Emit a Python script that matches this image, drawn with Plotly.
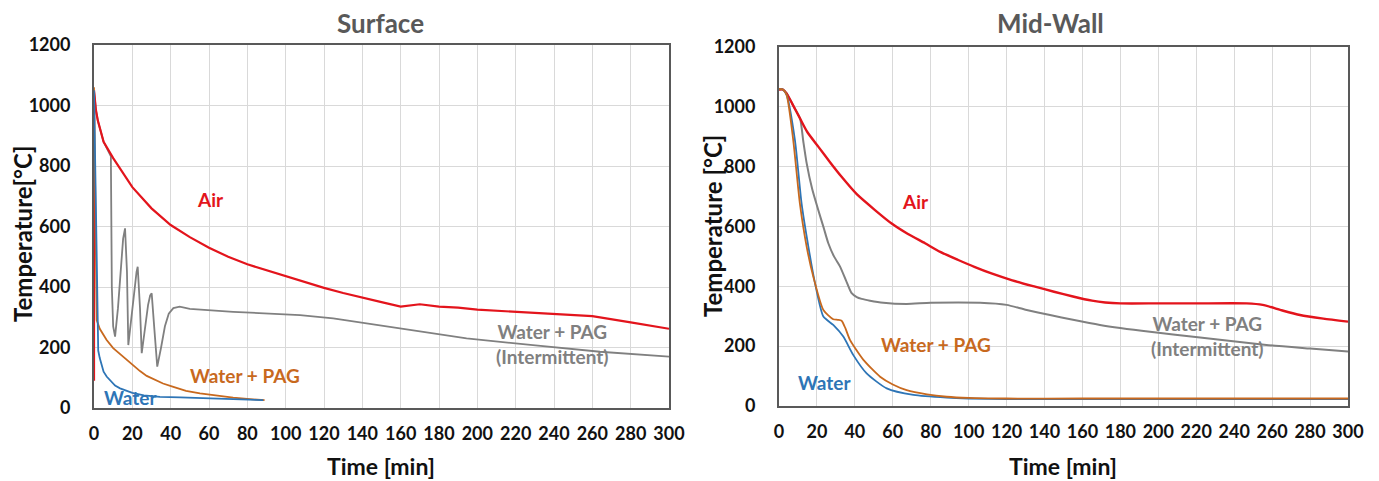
import plotly.graph_objects as go

# ---------------- Surface data ----------------
s_air_t = [0, 0, 1, 2, 5, 10, 20, 30, 40, 50, 60, 70, 80, 90, 100, 110, 120, 130, 140, 150, 160, 165, 170, 180, 190, 200, 220, 240, 260, 280, 300]
s_air_T = [90, 1050, 985, 950, 880, 826, 730, 660, 605, 565, 530, 500, 475, 455, 435, 415, 397, 380, 364, 350, 335, 340, 343, 335, 332, 325, 318, 312, 304, 283, 262]

s_int_t = [0, 1, 2, 5, 8.8, 9.0, 9.3, 10, 11, 12.5, 14, 15.2, 16.2, 17.2, 17.9, 19.5, 21, 22.2, 22.8, 24, 24.9, 26.5, 28.2, 29.3, 30.1, 31.5, 33, 35, 37, 39, 41.4, 44.7, 50, 72.6, 107.5, 124.8, 140, 159.7, 194.4, 229, 264, 300]
s_int_T = [1050, 985, 950, 880, 832, 700, 400, 270, 236, 330, 470, 560, 594, 450, 208, 300, 400, 450, 467, 330, 181, 260, 340, 372, 379, 260, 137, 200, 270, 312, 330, 335, 328, 318, 307, 296, 282, 263, 230, 208, 186, 170]

s_pag_t = [0, 0.5, 1.0, 1.4, 3, 5, 6.6, 10, 14, 17, 21, 24, 27.5, 32, 36, 41.4, 48, 55.3, 63, 72.6, 80, 89]
s_pag_T = [1060, 700, 400, 291, 262, 240, 225, 198, 176, 160, 140, 122, 106, 92, 81, 70, 57, 48, 41, 34, 30, 26]

s_wat_t = [0, 0.8, 1.6, 2.2, 3, 4, 5, 6.6, 9, 11, 13.6, 17, 20, 26, 34.4, 45, 55.3, 70, 88.3]
s_wat_T = [1050, 700, 350, 190, 165, 140, 120, 104, 86, 74, 65, 56, 50, 42, 37, 35, 33, 30, 26]

# ---------------- Mid-wall data ----------------
m_air_t = [0, 2, 4, 7, 11.1, 15, 20.7, 27, 33, 41, 50.6, 59.4, 68, 77, 85, 94.5, 103, 112, 123, 135, 145, 155, 165, 172, 180, 200, 220, 246.6, 255, 265, 274.7, 287, 300]
m_air_T = [1058, 1058, 1045, 1010, 961, 915, 867, 814, 766, 708, 655, 610, 575, 544, 515, 488, 465, 443, 420, 399, 382, 366, 352, 346, 343, 343, 343, 343, 338, 320, 304, 292, 282]

m_int_t = [0, 2, 4, 7, 11.1, 12.8, 14.6, 17.5, 20.7, 23.5, 26, 29, 32.2, 35.3, 38.3, 41, 43.6, 48, 55, 67.3, 80, 106, 120, 130, 142.9, 155, 169.2, 195.6, 222, 257, 280, 300]
m_int_T = [1058, 1058, 1045, 1010, 961, 885, 811, 725, 655, 597, 544, 500, 466, 420, 377, 364, 358, 352, 345, 341, 345, 345, 338, 322, 304, 288, 271, 248, 229, 204, 192, 182]

m_pag_t = [0, 2, 4, 7.5, 11, 14.6, 18.1, 23.4, 28.6, 31, 33, 35, 37.4, 44.5, 53.3, 60, 67.3, 78, 88.4, 100, 120, 160, 200, 250, 300]
m_pag_T = [1060, 1058, 1040, 889, 677, 532, 432, 321, 290, 288, 285, 260, 221, 154, 98, 72, 53, 39, 31, 27, 25, 25, 25, 25, 25]

m_wat_t = [0, 2, 4, 8.4, 11.9, 15.5, 19, 23.4, 28.6, 33.9, 39.2, 46.2, 56.8, 70.9, 88.4, 100, 120, 160, 200, 250, 300]
m_wat_T = [1060, 1058, 1040, 889, 677, 532, 410, 299, 271, 232, 170, 109, 59, 37, 28, 25, 23, 23, 23, 23, 23]

x_ticks = list(range(0, 301, 20))
y_ticks = list(range(0, 1201, 200))

RED = "#E3141C"
ORANGE = "#C8691E"
BLUE = "#2E75B6"
GRAY = "#808080"
FONT = "Lato"

fig = go.Figure()

def add(t, T, color, xa, ya, width=2, shape="linear"):
    fig.add_trace(go.Scatter(x=t, y=T, mode="lines", line=dict(color=color, width=width, shape=shape, smoothing=0.6),
                             xaxis=xa, yaxis=ya, showlegend=False, hoverinfo="skip"))

add(s_int_t, s_int_T, GRAY, "x", "y", 1.8)
add(s_air_t, s_air_T, RED, "x", "y", 2.2)
add(s_pag_t, s_pag_T, ORANGE, "x", "y", 1.8)
add(s_wat_t, s_wat_T, BLUE, "x", "y", 1.8)

add(m_int_t, m_int_T, GRAY, "x2", "y2", 2, "spline")
add(m_air_t, m_air_T, RED, "x2", "y2", 2.4, "spline")
add(m_wat_t, m_wat_T, BLUE, "x2", "y2", 1.8, "spline")
add(m_pag_t, m_pag_T, ORANGE, "x2", "y2", 1.8, "spline")

W, H = 1379, 481
OX, OY = 8, 8  # page body offset


def px(x):
    return (x - OX) / W


def py(y):
    return 1 - (y - OY) / H


axis_common = dict(showgrid=True, gridcolor="#D9D9D9", gridwidth=1, zeroline=False,
                   showline=True, linecolor="#595959", linewidth=2, mirror=True, automargin=False,
                   ticks="", tickfont=dict(family=FONT, size=18, color="#111111", weight="bold"))

fig.update_layout(
    template="none",
    width=W, height=H, margin=dict(l=0, r=0, t=0, b=0, autoexpand=False),
    paper_bgcolor="white", plot_bgcolor="white",
    xaxis=dict(domain=[px(94), px(669)], range=[0, 300], tickvals=x_ticks, anchor="y",
               ticklabelstandoff=8, **axis_common),
    yaxis=dict(domain=[py(408), py(45)], range=[0, 1200], tickvals=y_ticks, anchor="x",
               ticklabelstandoff=18, **axis_common),
    xaxis2=dict(domain=[px(779), px(1348)], range=[0, 300], tickvals=x_ticks, anchor="y2",
                ticklabelstandoff=8, **axis_common),
    yaxis2=dict(domain=[py(406), py(47)], range=[0, 1200], tickvals=y_ticks, anchor="x2",
                ticklabelstandoff=18, **axis_common),
)


def ann(text, x, y, color, size, angle=0):
    fig.add_annotation(text=text, x=px(x), y=py(y), xref="paper", yref="paper", showarrow=False,
                       textangle=angle, xanchor="center", yanchor="middle",
                       font=dict(family=FONT, size=size, color=color, weight="bold"))


# titles
ann("Surface", 380, 23, "#595959", 26)
ann("Mid-Wall", 1050, 23, "#595959", 26)
# axis titles
ann("Time [min]", 381, 466, "#111111", 23)
ann("Time [min]", 1063, 466, "#111111", 23)
ann("Temperature[°C]", 22, 234, "#111111", 24, angle=-90)
ann("Temperature [°C]", 712, 226, "#111111", 24, angle=-90)

# series labels (data coordinates)
lab = 19


def dlabel(text, x, y, xr, yr, color):
    fig.add_annotation(text=text, x=x, y=y, xref=xr, yref=yr, showarrow=False,
                       font=dict(family=FONT, size=lab, color=color, weight="bold"))


dlabel("Air", 61, 690, "x", "y", RED)
dlabel("Water + PAG", 79, 108, "x", "y", ORANGE)
dlabel("Water", 19, 34, "x", "y", BLUE)
dlabel("Water + PAG<br>(Intermittent)", 239, 212, "x", "y", GRAY)

dlabel("Air", 72, 685, "x2", "y2", RED)
dlabel("Water + PAG", 83, 205, "x2", "y2", ORANGE)
dlabel("Water", 24, 80, "x2", "y2", BLUE)
dlabel("Water + PAG<br>(Intermittent)", 226, 234, "x2", "y2", GRAY)

fig.write_html("out.html")
